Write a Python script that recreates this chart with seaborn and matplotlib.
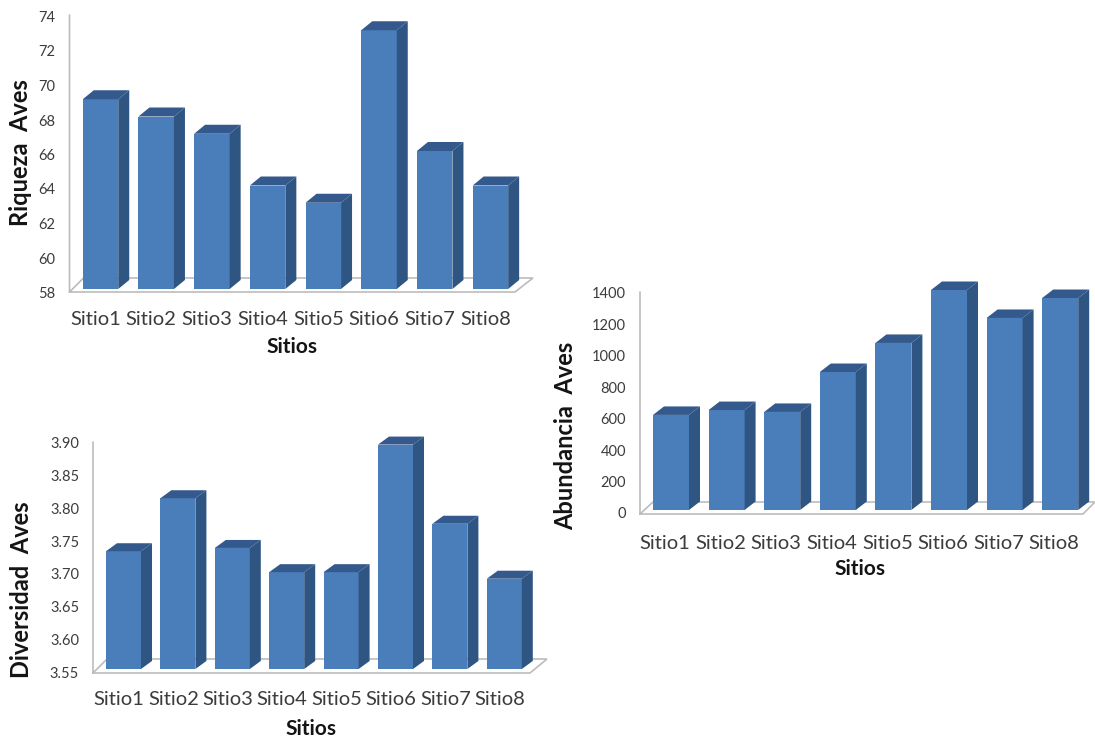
import matplotlib
matplotlib.use("Agg")
import matplotlib.pyplot as plt
import pandas as pd
import seaborn as sns
from matplotlib.patches import Polygon
from matplotlib.transforms import Affine2D, ScaledTranslation

sitios = ["Sitio1", "Sitio2", "Sitio3", "Sitio4", "Sitio5", "Sitio6", "Sitio7", "Sitio8"]
riqueza = [69, 68, 67, 64, 63, 73, 66, 64]
diversidad = [3.730, 3.811, 3.735, 3.698, 3.698, 3.893, 3.772, 3.688]
abundancia = [605, 636, 624, 878, 1063, 1400, 1222, 1349]

riqueza_ticks = [58, 60, 62, 64, 66, 68, 70, 72, 74]
diversidad_ticks = [3.55, 3.60, 3.65, 3.70, 3.75, 3.80, 3.85, 3.90]
abundancia_ticks = [0, 200, 400, 600, 800, 1000, 1200, 1400]

WIDTH, HEIGHT = 1095, 738
FRONT = "#4a7ebb"
SIDE = "#2f5583"
TOP = "#34598c"
WALL = "#bcbcbc"
TICK_TEXT = "#3c3c3c"
TITLE_TEXT = "#141414"
FAMILY = "Lato"

sns.set_theme(style="white")
plt.rcParams["font.family"] = [FAMILY, "DejaVu Sans"]

fig = plt.figure(figsize=(WIDTH / 100, HEIGHT / 100), dpi=100, facecolor="white")
# Pixel coordinates measured from the top left corner of the figure
px = Affine2D().scale(1, -1).translate(0, HEIGHT)


def panel(values, ticks, fmt, ylabel, left, right, top, base, first, step, bar_w,
          floor_y, back_y, floor_dx, back_end, dx, dy, tick_dy, label_dx,
          label_pad, xlabel_pos, ylabel_pos):
    ax = fig.add_axes([left / WIDTH, 1 - base / HEIGHT,
                       (right - left) / WIDTH, (base - top) / HEIGHT])
    ax.patch.set_visible(False)
    frame = pd.DataFrame({"sitio": sitios, "valor": values})
    sns.barplot(data=frame, x="sitio", y="valor", ax=ax, color=FRONT, saturation=1,
                width=bar_w / step, linewidth=0, zorder=2)
    ax.set_xlim((left - first) / step, (right - first) / step)
    ax.set_ylim(ticks[0], ticks[-1])

    # Depth of the extruded faces, converted from pixels to data units
    x_unit = 1 / step
    y_unit = (ticks[-1] - ticks[0]) / (base - top)
    ddx, ddy = dx * x_unit, dy * y_unit
    floor_level = ticks[0]
    for bar in list(ax.patches):
        x0, x1, h = bar.get_x(), bar.get_x() + bar.get_width(), bar.get_height()
        ax.add_patch(Polygon([(x1, floor_level), (x1 + ddx, floor_level + ddy),
                              (x1 + ddx, h + ddy), (x1, h)],
                             facecolor=SIDE, edgecolor="none", clip_on=False, zorder=2))
        ax.add_patch(Polygon([(x0, h), (x0 + ddx, h + ddy), (x1 + ddx, h + ddy), (x1, h)],
                             facecolor=TOP, edgecolor="none", clip_on=False, zorder=2))

    # Floor outline and value wall edge
    ax.plot([left, left, right, back_end, left + floor_dx, left],
            [top + 2, floor_y, floor_y, back_y, back_y, floor_y],
            transform=px, color=WALL, lw=1.2, clip_on=False, zorder=1,
            solid_joinstyle="miter")

    for side in ax.spines.values():
        side.set_visible(False)
    ax.grid(False)
    ax.set_yticks(ticks, [fmt.format(t) for t in ticks])
    ax.tick_params(axis="both", length=0)
    ax.tick_params(axis="y", pad=10, labelsize=10.5, labelcolor=TICK_TEXT)
    ax.tick_params(axis="x", pad=label_pad, labelsize=14.5, labelcolor=TICK_TEXT)
    for lab in ax.get_yticklabels():
        lab.set_transform(lab.get_transform() + ScaledTranslation(0, -tick_dy / 100, fig.dpi_scale_trans))
    for lab in ax.get_xticklabels():
        lab.set_transform(lab.get_transform() + ScaledTranslation(label_dx / 100, 0, fig.dpi_scale_trans))

    ax.set_xlabel("Sitios", fontsize=15, fontweight="bold", color=TITLE_TEXT, va="center", ha="center")
    ax.xaxis.set_label_coords(*xlabel_pos, transform=px)
    ax.set_ylabel(ylabel, fontsize=17, fontweight="bold", color=TITLE_TEXT, va="center", ha="center")
    ax.yaxis.set_label_coords(*ylabel_pos, transform=px)
    return ax


panel(riqueza, riqueza_ticks, "{:d}", "Riqueza  Aves",
      left=69.5, right=515, top=13, base=289, first=100.5, step=55.7, bar_w=35.5,
      floor_y=292, back_y=278, floor_dx=14, back_end=533, dx=11, dy=9, tick_dy=3.5,
      label_dx=-5, label_pad=16, xlabel_pos=(292, 347), ylabel_pos=(21, 153))

panel(diversidad, diversidad_ticks, "{:.2f}", "Diversidad  Aves",
      left=93, right=530, top=440, base=669, first=123.5, step=54.4, bar_w=35,
      floor_y=673, back_y=659, floor_dx=14, back_end=547, dx=11, dy=8, tick_dy=3,
      label_dx=-4.5, label_pad=16, xlabel_pos=(311, 729), ylabel_pos=(22, 590))

panel(abundancia, abundancia_ticks, "{:d}", "Abundancia  Aves",
      left=640, right=1083, top=290, base=510, first=671, step=55.6, bar_w=36,
      floor_y=514, back_y=502, floor_dx=13, back_end=1095, dx=11, dy=8.5, tick_dy=3,
      label_dx=-6, label_pad=18, xlabel_pos=(860, 569), ylabel_pos=(566, 436))

fig.savefig("out.png", dpi=100, facecolor="white")
